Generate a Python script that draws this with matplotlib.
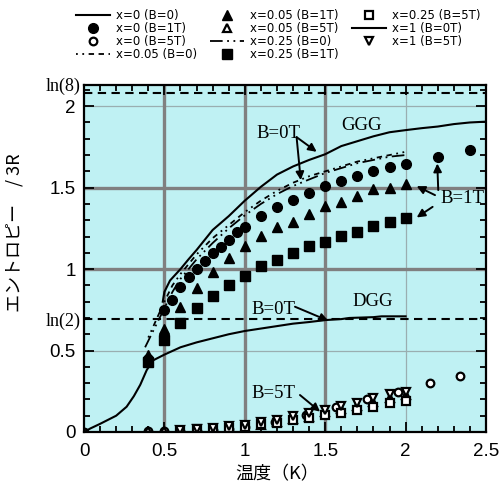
import matplotlib
matplotlib.use("Agg")
import matplotlib.pyplot as plt

# ---------------- data ----------------
# x=0 (GGG), B=0
t_x0_b0 = [0.49, 0.50, 0.535, 0.60, 0.65, 0.70, 0.80, 0.90, 1.00, 1.10, 1.20, 1.30, 1.40, 1.50,
           1.60, 1.70, 1.80, 1.90, 2.00, 2.10, 2.20, 2.30, 2.40, 2.50]
s_x0_b0 = [0.80, 0.86, 0.93, 1.00, 1.06, 1.117, 1.24, 1.325, 1.42, 1.505, 1.58, 1.63, 1.67, 1.705,
           1.755, 1.785, 1.815, 1.84, 1.853, 1.865, 1.875, 1.89, 1.90, 1.905]

# x=0, B=1T
t_x0_b1 = [0.40, 0.50, 0.55, 0.60, 0.65, 0.70, 0.75, 0.80, 0.85, 0.90, 0.95, 1.00, 1.10, 1.20,
           1.30, 1.40, 1.50, 1.60, 1.70, 1.80, 1.90, 2.00, 2.20, 2.40]
s_x0_b1 = [0.45, 0.75, 0.81, 0.89, 0.95, 1.00, 1.05, 1.10, 1.137, 1.18, 1.227, 1.256, 1.325, 1.382,
           1.423, 1.468, 1.509, 1.542, 1.57, 1.60, 1.624, 1.648, 1.689, 1.73]

# x=0, B=5T
t_x0_b5 = [0.00, 0.40, 0.50, 0.60, 0.70, 0.80, 0.90, 1.00, 1.19, 1.38, 1.57, 1.76, 1.95, 2.15, 2.34]
s_x0_b5 = [0.00, 0.005, 0.005, 0.006, 0.008, 0.012, 0.018, 0.03, 0.063, 0.104, 0.155, 0.20, 0.243,
           0.30, 0.344]

# x=0.05, B=0
t_x005_b0 = [0.40, 0.45, 0.50, 0.55, 0.60, 0.70, 0.80, 0.90, 1.00, 1.10, 1.20, 1.30, 1.40, 1.50,
             1.60, 1.70, 1.80, 1.90, 2.00]
s_x005_b0 = [0.58, 0.69, 0.80, 0.90, 0.97, 1.09, 1.19, 1.27, 1.35, 1.42, 1.48, 1.53, 1.57, 1.60,
             1.63, 1.66, 1.68, 1.70, 1.72]

# x=0.05, B=1T
t_x005_b1 = [0.40, 0.50, 0.60, 0.70, 0.80, 0.90, 1.00, 1.10, 1.20, 1.30, 1.40, 1.50, 1.60, 1.70,
             1.80, 1.90, 2.00]
s_x005_b1 = [0.47, 0.63, 0.765, 0.885, 0.98, 1.07, 1.141, 1.202, 1.26, 1.29, 1.337, 1.386, 1.413,
             1.45, 1.49, 1.50, 1.52]

# x=0.05, B=5T
t_x005_b5 = [0.40, 0.50, 0.60, 0.70, 0.80, 0.90, 1.00, 1.10, 1.20, 1.30, 1.40, 1.50, 1.60, 1.70,
             1.80, 1.90, 2.00]
s_x005_b5 = [0.004, 0.005, 0.007, 0.012, 0.016, 0.022, 0.03, 0.045, 0.06, 0.08, 0.095, 0.12, 0.14,
             0.16, 0.185, 0.21, 0.23]

# x=0.25, B=0
t_x025_b0 = [0.38, 0.45, 0.50, 0.55, 0.60, 0.70, 0.80, 0.90, 1.00, 1.10, 1.20, 1.30, 1.40, 1.50,
             1.60, 1.70, 1.80, 1.90, 2.00]
s_x025_b0 = [0.52, 0.66, 0.76, 0.86, 0.94, 1.06, 1.16, 1.25, 1.33, 1.40, 1.46, 1.51, 1.55, 1.59,
             1.62, 1.65, 1.67, 1.69, 1.70]

# x=0.25, B=1T
t_x025_b1 = [0.40, 0.50, 0.60, 0.70, 0.80, 0.90, 1.00, 1.10, 1.20, 1.30, 1.40, 1.50, 1.60, 1.70,
             1.80, 1.90, 2.00]
s_x025_b1 = [0.43, 0.565, 0.667, 0.764, 0.835, 0.90, 0.957, 1.018, 1.055, 1.10, 1.141, 1.168, 1.205,
             1.229, 1.266, 1.286, 1.311]

# x=0.25, B=5T
t_x025_b5 = [0.60, 0.70, 0.80, 0.90, 1.00, 1.10, 1.20, 1.30, 1.40, 1.50, 1.60, 1.70, 1.80, 1.90, 2.00]
s_x025_b5 = [0.008, 0.016, 0.02, 0.027, 0.033, 0.048, 0.058, 0.074, 0.084, 0.104, 0.115, 0.135,
             0.151, 0.176, 0.19]

# x=1 (DGG), B=0T
t_x1_b0 = [0.00, 0.04, 0.10, 0.20, 0.265, 0.31, 0.35, 0.39, 0.43, 0.50, 0.60, 0.70, 0.80, 0.90,
           1.00, 1.10, 1.20, 1.30, 1.40, 1.50, 1.60, 1.65, 1.80, 1.85, 2.00]
s_x1_b0 = [0.00, 0.022, 0.05, 0.10, 0.155, 0.22, 0.29, 0.38, 0.44, 0.475, 0.52, 0.55, 0.575, 0.60,
           0.62, 0.635, 0.65, 0.665, 0.675, 0.687, 0.693, 0.70, 0.705, 0.71, 0.71]

# x=1, B=5T
t_x1_b5 = [0.60, 0.70, 0.80, 0.90, 1.00, 1.10, 1.20, 1.30, 1.40, 1.50, 1.60, 1.70, 1.80, 1.90, 2.00]
s_x1_b5 = [0.012, 0.02, 0.025, 0.035, 0.045, 0.06, 0.075, 0.10, 0.115, 0.135, 0.16, 0.18, 0.206,
           0.231, 0.247]

x_ticks = [0, 0.5, 1, 1.5, 2, 2.5]
x_ticklabels = ["0", "0.5", "1", "1.5", "2", "2.5"]
y_ticks = [0, 0.5, 1, 1.5, 2]
y_ticklabels = ["0", "0.5", "1", "1.5", "2"]
ln8 = 2.0794
ln2 = 0.6931

# ---------------- figure ----------------
plt.rcParams['font.family'] = ['Liberation Sans', 'Noto Sans CJK JP', 'DejaVu Sans']
fig = plt.figure(figsize=(5.03, 4.86), dpi=100)
ax = fig.add_axes([84/503, 1-432/486, 402/503, 347/486])
ax.set_facecolor('#bff1f3')
ax.set_xlim(0, 2.5)
ax.set_ylim(0, 2.13)

# grid lines
for xv in [2.0]:
    ax.axvline(xv, color='#9aaeb0', lw=0.9, zorder=1)
for yv in [0.5, 2.0]:
    ax.axhline(yv, color='#9aaeb0', lw=0.9, zorder=1)
for xv in [0.5, 1.0, 1.5]:
    ax.axvline(xv, color='#808080', lw=2.4, zorder=1)
for yv in [1.0, 1.5]:
    ax.axhline(yv, color='#808080', lw=2.4, zorder=1)

ax.axhline(ln8, color='black', lw=1.5, ls=(0, (4, 2.6)), zorder=2)
ax.axhline(ln2, color='black', lw=1.5, ls=(0, (4, 2.6)), zorder=2)

h = []
h.append(ax.plot(t_x0_b0, s_x0_b0, '-', color='black', lw=1.5, label='x=0 (B=0)')[0])
h.append(ax.plot(t_x0_b1, s_x0_b1, 'o', color='black', ms=7, ls='none', label='x=0 (B=1T)')[0])
h.append(ax.plot(t_x0_b5, s_x0_b5, 'o', mfc='white', mec='black', mew=1.6, ms=5.5, ls='none',
                 label='x=0 (B=5T)')[0])
h.append(ax.plot(t_x005_b0, s_x005_b0, color='black', lw=1.3, ls=(0, (1, 2.5, 1, 2.5, 3, 2.5, 3, 2.5)),
                 label='x=0.05 (B=0)')[0])
h.append(ax.plot(t_x005_b1, s_x005_b1, '^', color='black', ms=6.5, ls='none', label='x=0.05 (B=1T)')[0])
h.append(ax.plot(t_x005_b5, s_x005_b5, '^', mfc='white', mec='black', mew=1.6, ms=5.5, ls='none',
                 label='x=0.05 (B=5T)')[0])
h.append(ax.plot(t_x025_b0, s_x025_b0, color='black', lw=1.3, ls=(0, (7, 2.5, 1, 2.5, 1, 2.5)),
                 label='x=0.25 (B=0)')[0])
h.append(ax.plot(t_x025_b1, s_x025_b1, 's', color='black', ms=6.5, ls='none', label='x=0.25 (B=1T)')[0])
h.append(ax.plot(t_x025_b5, s_x025_b5, 's', mfc='white', mec='black', mew=1.6, ms=5.5, ls='none',
                 label='x=0.25 (B=5T)')[0])
h.append(ax.plot(t_x1_b0, s_x1_b0, '-', color='black', lw=1.5, label='x=1 (B=0T)')[0])
h.append(ax.plot(t_x1_b5, s_x1_b5, 'v', mfc='white', mec='black', mew=1.6, ms=5.5, ls='none',
                 label='x=1 (B=5T)')[0])

# ticks
ax.set_xticks(x_ticks)
ax.set_xticklabels(x_ticklabels)
ax.set_yticks(y_ticks)
ax.set_yticklabels(y_ticklabels)
ax.set_xticks([i/10 for i in range(26)], minor=True)
ax.set_yticks([i/10 for i in range(22)], minor=True)
ax.tick_params(which='both', direction='in', top=True, right=True, width=1.3, labelsize=13.5)
ax.tick_params(which='major', length=7)
ax.tick_params(which='minor', length=4)
ax.tick_params(axis='x', pad=8)
ax.tick_params(axis='y', pad=6)
for sp in ax.spines.values():
    sp.set_linewidth(1.6)

# labels
ax.set_xlabel('温度（K）', family=['Noto Sans CJK JP'], fontsize=13)
ax.xaxis.set_label_coords(0.48, -0.095)
ax.set_ylabel('エントロピー\u3000/ 3R', family=['Noto Sans CJK JP'], fontsize=13)
ax.yaxis.set_label_coords(-0.15, 0.575)

serif = ['Liberation Serif']
ax.text(-0.02, 2.12, 'ln(8)', family=serif, fontsize=13, ha='right', va='center', clip_on=False)
ax.text(-0.02, 0.677, 'ln(2)', family=serif, fontsize=13, ha='right', va='center', clip_on=False)
ax.text(1.727, 1.883, 'GGG', family=serif, fontsize=13.5, ha='center', va='center')
ax.text(1.793, 0.80, 'DGG', family=serif, fontsize=13.5, ha='center', va='center')

arrow = dict(arrowstyle='-|>', color='black', lw=1.4, mutation_scale=12, shrinkA=0, shrinkB=0)
ax.text(1.07, 1.83, 'B=0T', family=serif, fontsize=13.5, ha='left', va='center')
ax.annotate('', xy=(1.447, 1.72), xytext=(1.322, 1.81), arrowprops=arrow)
ax.annotate('', xy=(1.348, 1.546), xytext=(1.322, 1.81), arrowprops=arrow)

ax.text(2.214, 1.436, 'B=1T', family=serif, fontsize=13.5, ha='left', va='center', clip_on=False)
ax.annotate('', xy=(2.197, 1.648), xytext=(2.203, 1.485), arrowprops=arrow)
ax.annotate('', xy=(2.069, 1.509), xytext=(2.183, 1.454), arrowprops=arrow)
ax.annotate('', xy=(2.069, 1.317), xytext=(2.168, 1.382), arrowprops=arrow)

ax.text(1.043, 0.753, 'B=0T', family=serif, fontsize=13.5, ha='left', va='center')
ax.annotate('', xy=(1.519, 0.683), xytext=(1.312, 0.769), arrowprops=arrow)

ax.text(1.043, 0.237, 'B=5T', family=serif, fontsize=13.5, ha='left', va='center')
ax.annotate('', xy=(1.468, 0.125), xytext=(1.343, 0.227), arrowprops=arrow)

leg = fig.legend(handles=h, ncol=3, loc='upper left', bbox_to_anchor=(76/503, 1-9/486),
                 frameon=False, prop={'family': 'DejaVu Sans', 'size': 8.5},
                 labelspacing=0.0, handlelength=2.9,
                 handletextpad=0.45, columnspacing=1.15, borderpad=0, borderaxespad=0)

fig.savefig('out.png', dpi=100)
